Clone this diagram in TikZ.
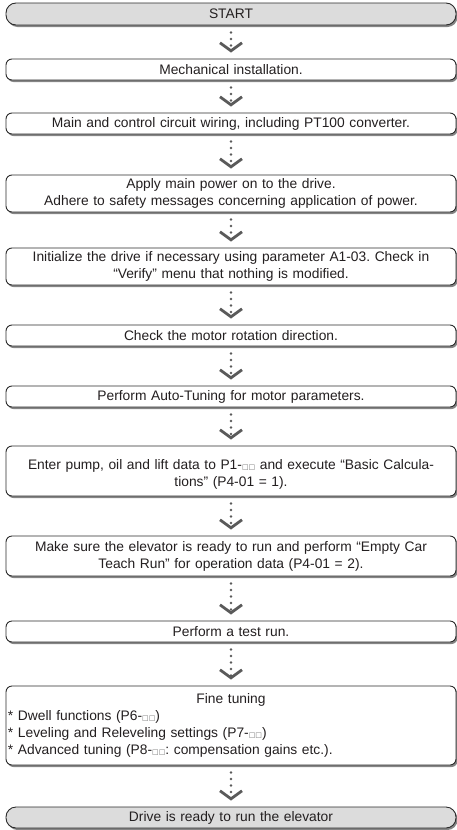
\documentclass[tikz,border=0pt]{standalone}
\usepackage{fontspec}
\setmainfont{Liberation Sans}
\newfontfamily\symfont{DejaVu Sans}
\usetikzlibrary{arrows.meta,shadows}
\definecolor{txt}{HTML}{231F20}
\definecolor{edge}{HTML}{2B2B2B}
\definecolor{shade}{HTML}{858585}
\definecolor{termfill}{HTML}{DCDCDC}
\definecolor{conn}{HTML}{5A5A5A}
\definecolor{sqcol}{HTML}{707070}
\newcommand\boxpair{{\symfont\fontsize{7}{7}\selectfont\color{sqcol}□□}}
\begin{document}
\frenchspacing
\begin{tikzpicture}[x=1pt,y=-1pt,
  stepbox/.style={draw=edge, line width=0.9pt, fill=white, rounded corners=6pt,
    text=txt, font=\fontsize{13.8}{17}\selectfont, text width=440pt,
    inner xsep=5pt, inner ysep=2pt, align=center,
    drop shadow={shadow xshift=1.5pt, shadow yshift=-2pt, fill=shade, opacity=1}},
  termbox/.style={stepbox, fill=termfill, rounded corners=10pt},
  flow/.style={draw=conn, line width=2.8pt, line cap=round, dash pattern=on 0pt off 6.5pt,
    shorten <=7pt, shorten >=6pt,
    -{Straight Barb[length=8pt, width=22pt, line width=2.8pt]}}]
\useasboundingbox (0,0) rectangle (457,830);
\node[termbox, minimum height=22pt] (start) at (231,14) {START};
\node[stepbox, minimum height=21pt] (mech) at (231,69.5) {Mechanical installation.};
\node[stepbox, minimum height=21pt] (main) at (231,123.5) {Main and control circuit wiring, including PT100 converter.};
\node[stepbox, minimum height=37pt] (power) at (231,193.5) {Apply main power on to the drive.\\Adhere to safety messages concerning application of power.};
\node[stepbox, minimum height=37pt] (init) at (231,266.5) {Initialize the drive if necessary using parameter A1-03. Check in\\“Verify” menu that nothing is modified.};
\node[stepbox, minimum height=21pt] (rot) at (231,335.5) {Check the motor rotation direction.};
\node[stepbox, minimum height=21pt] (auto) at (231,396.5) {Perform Auto-Tuning for motor parameters.};
\node[stepbox, minimum height=50pt] (enter) at (231,471) {\rule{0pt}{17pt}Enter pump, oil and lift data to P1-\boxpair{} and execute “Basic Calcula-\\tions” (P4-01 = 1).};
\node[stepbox, minimum height=40pt] (teach) at (231,556) {Make sure the elevator is ready to run and perform “Empty Car\\Teach Run” for operation data (P4-01 = 2).};
\node[stepbox, minimum height=21pt] (test) at (231,631.5) {Perform a test run.};
\node[stepbox, minimum height=79pt, text width=446pt, inner xsep=2pt] (fine) at (231,725.5) {Fine tuning\\
\makebox[\linewidth][l]{* Dwell functions (P6-\boxpair)}\\
\makebox[\linewidth][l]{* Leveling and Releveling settings (P7-\boxpair)}\\
\makebox[\linewidth][l]{* Advanced tuning (P8-\boxpair: compensation gains etc.).}};
\node[termbox, minimum height=21pt] (ready) at (231,817.5) {Drive is ready to run the elevator};
\draw[flow] (start) -- (mech);
\draw[flow] (mech) -- (main);
\draw[flow] (main) -- (power);
\draw[flow] (power) -- (init);
\draw[flow] (init) -- (rot);
\draw[flow] (rot) -- (auto);
\draw[flow] (auto) -- (enter);
\draw[flow] (enter) -- (teach);
\draw[flow] (teach) -- (test);
\draw[flow] (test) -- (fine);
\draw[flow] (fine) -- (ready);
\end{tikzpicture}
\end{document}
